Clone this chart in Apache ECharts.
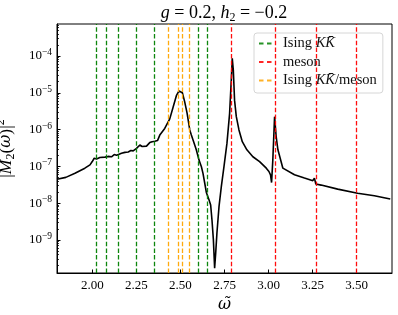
<!DOCTYPE html>
<html><head><meta charset="utf-8">
<script src="https://cdn.jsdelivr.net/npm/echarts@6/dist/echarts.min.js"></script>
<style>html,body{margin:0;padding:0;background:#fff}#c{width:398px;height:315px}</style>
</head><body><div id="c"></div>
<script>
// frequency axis values
const omega = [1.800,1.850,1.902,1.958,1.987,2.000,2.011,2.0245,2.043,2.072,2.0905,2.100,2.109,2.1245,2.138,2.147,2.166,2.185,2.194,2.204,2.219,2.232,2.241,2.251,2.260,2.270,2.283,2.294,2.3075,2.326,2.3395,2.355,2.370,2.383,2.411,2.4395,2.458,2.477,2.492,2.502,2.511,2.524,2.538,2.553,2.562,2.575,2.590,2.6055,2.619,2.628,2.638,2.647,2.662,2.6715,2.679,2.687,2.694,2.700,2.707,2.719,2.732,2.747,2.764,2.779,2.7885,2.794,2.800,2.807,2.817,2.832,2.851,2.877,2.911,2.949,2.987,3.002,3.011,3.017,3.024,3.034,3.043,3.053,3.081,3.147,3.2035,3.251,3.260,3.268,3.279,3.298,3.392,3.505,3.600,3.690];
// log10 of |M2(omega)|^2
const log10M2 = [-7.35,-7.30,-7.19,-7.05,-6.96,-6.87,-6.78,-6.80,-6.76,-6.75,-6.73,-6.70,-6.74,-6.68,-6.70,-6.66,-6.645,-6.62,-6.59,-6.61,-6.57,-6.58,-6.54,-6.51,-6.46,-6.42,-6.46,-6.48,-6.45,-6.355,-6.33,-6.32,-6.30,-6.15,-5.97,-5.71,-5.40,-5.08,-4.95,-4.94,-5.00,-5.24,-5.56,-6.01,-6.15,-6.33,-6.55,-6.83,-7.01,-7.19,-7.46,-7.71,-7.91,-8.05,-8.46,-9.00,-9.77,-9.36,-8.82,-8.09,-7.55,-7.01,-6.37,-5.56,-4.65,-4.06,-4.38,-5.20,-5.65,-6.01,-6.33,-6.55,-6.74,-6.87,-7.05,-7.14,-7.23,-7.44,-6.83,-5.65,-6.19,-6.55,-7.05,-7.23,-7.32,-7.39,-7.32,-7.48,-7.53,-7.51,-7.62,-7.73,-7.80,-7.89];
// threshold positions
const isingKK = [2.022, 2.077, 2.153, 2.245, 2.345, 2.605, 2.645];
const mesons = [2.794, 3.038, 3.268, 3.500];
const isingKKmeson = [2.430, 2.489, 2.511, 2.553];
// ticks
const xTicks = [2.00, 2.25, 2.50, 2.75, 3.00, 3.25, 3.50];
const yTickExps = [-9, -8, -7, -6, -5, -4];
const seriesNames = ['Ising KK̄', 'meson', 'Ising KK̄/meson'];

const FONT = 'Liberation Serif';
const GFONT = 'DejaVu Serif';
const yMin = -9.9, yMax = -3.13;
const minorTicks = [];
for (let n = -10; n <= -4; n++) for (let k = 2; k <= 9; k++) {
  const v = n + Math.log10(k);
  if (v > yMin && v < yMax) minorTicks.push(v);
}
const dash = [4.5, 2.2];
function vlineSeries(name, color, xs) {
  return {
    name, type: 'line', data: [], symbol: 'none',
    lineStyle: { color, type: dash, width: 1.3 }, itemStyle: { color, opacity: 0.85 },
    markLine: {
      symbol: 'none', silent: true, animation: false,
      label: { show: false },
      lineStyle: { color, type: dash, width: 1.3, opacity: 0.95 },
      data: xs.map(v => ({ xAxis: v }))
    },
    z: 5
  };
}
const legendRich = {
  t: { fontFamily: FONT, fontSize: 14.5, color: '#111', lineHeight: 16 },
  i: { fontFamily: FONT, fontSize: 14.5, fontStyle: 'italic', color: '#111', lineHeight: 16 }
};
const chart = echarts.init(document.getElementById('c'), null, { renderer: 'canvas' });
chart.setOption({
  animation: false,
  backgroundColor: '#fff',
  grid: { left: 57, right: 6, top: 24, bottom: 42, containLabel: false, outerBoundsMode: 'none',
          show: true, borderColor: '#000', borderWidth: 1, backgroundColor: 'transparent' },
  graphic: [{
    type: 'text', x: 224, y: 13,
    style: {
      text: '{i|g}{t| = 0.2, }{i|h}{s|2}{t| = −0.2}',
      align: 'center', verticalAlign: 'middle',
      rich: {
        t: { fontFamily: FONT, fontSize: 18, fill: '#000', lineHeight: 22 },
        i: { fontFamily: FONT, fontSize: 18, fontStyle: 'italic', fill: '#000', lineHeight: 22 },
        s: { fontFamily: FONT, fontSize: 12, fill: '#000', lineHeight: 9, verticalAlign: 'bottom' }
      }
    }
  }],
  legend: {
    orient: 'vertical', left: 254, top: 33, data: seriesNames,
    icon: 'path://M0,0H4.5V2H0Z M8,0H12.5V2H8Z',
    itemWidth: 12.5, itemHeight: 2.2, itemGap: 3.5,
    padding: [3, 6, 5, 5],
    backgroundColor: 'rgba(255,255,255,0.8)', borderColor: '#d6d6d6', borderWidth: 1, borderRadius: 3,
    formatter: function (name) {
      if (name === 'meson') return '{t|meson}';
      if (name === 'Ising KK̄') return '{t|Ising }{i|KK̄}';
      return '{t|Ising }{i|KK̄}{t|/meson}';
    },
    textStyle: { rich: legendRich, padding: [0, 0, 0, 6.5] }
  },
  xAxis: {
    type: 'value', min: 1.8, max: 3.7,
    name: 'ω̃', nameLocation: 'middle', nameGap: 22,
    nameTextStyle: { fontFamily: GFONT, fontSize: 16, fontStyle: 'italic', color: '#000' },
    axisLine: { show: true, lineStyle: { color: '#000', width: 1 } },
    axisTick: { show: true, inside: true, length: 3.5, customValues: xTicks, lineStyle: { color: '#000' } },
    axisLabel: { customValues: xTicks, formatter: v => v.toFixed(2), fontFamily: FONT, fontSize: 13, color: '#000', margin: 6 },
    splitLine: { show: false }
  },
  yAxis: [{
    type: 'value', min: yMin, max: yMax,
    name: '{t||}{i|M}{s|2}{t|(}{o|ω̃}{t|)|}{p|2}', nameLocation: 'middle', nameGap: 40, nameRotate: 90,
    nameTextStyle: {
      rich: {
        t: { fontFamily: FONT, fontSize: 17.5, color: '#000', lineHeight: 22 },
        i: { fontFamily: FONT, fontSize: 17.5, fontStyle: 'italic', color: '#000', lineHeight: 22 },
        o: { fontFamily: GFONT, fontSize: 16, fontStyle: 'italic', color: '#000', lineHeight: 22 },
        s: { fontFamily: FONT, fontSize: 12, color: '#000', lineHeight: 9, verticalAlign: 'bottom' },
        p: { fontFamily: FONT, fontSize: 12, color: '#000', lineHeight: 12, verticalAlign: 'top' }
      }
    },
    axisLine: { show: true, lineStyle: { color: '#000', width: 1 } },
    axisTick: { show: true, inside: true, length: 3.5, customValues: yTickExps, lineStyle: { color: '#000' } },
    axisLabel: {
      customValues: yTickExps, margin: 5,
      formatter: v => '{b|10}{s|−' + (-v) + '}',
      rich: {
        b: { fontFamily: FONT, fontSize: 13, color: '#000', lineHeight: 17 },
        s: { fontFamily: FONT, fontSize: 9.5, color: '#000', lineHeight: 9, verticalAlign: 'top' }
      }
    },
    splitLine: { show: false }
  }, {
    type: 'value', min: yMin, max: yMax, position: 'left',
    axisLine: { show: false },
    axisTick: { show: true, inside: true, length: 2, customValues: minorTicks, lineStyle: { color: '#000', width: 0.8 } },
    axisLabel: { show: false },
    splitLine: { show: false }
  }],
  series: [{
    name: 'curve', type: 'line', symbol: 'none', z: 3,
    lineStyle: { color: '#000', width: 1.6 },
    data: omega.map((x, i) => [x, log10M2[i]])
  },
    vlineSeries(seriesNames[0], '#008000', isingKK),
    vlineSeries(seriesNames[1], '#ff0000', mesons),
    vlineSeries(seriesNames[2], '#ffa500', isingKKmeson)
  ]
});
</script></body></html>
